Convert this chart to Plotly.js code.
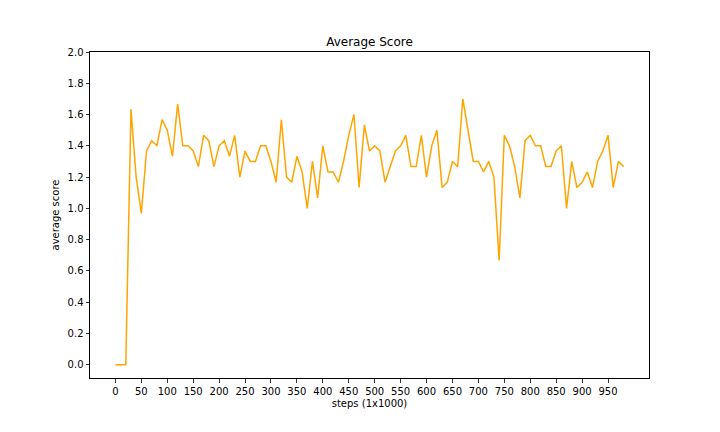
<!DOCTYPE html>
<html>
<head>
<meta charset="utf-8">
<script src="https://cdn.plot.ly/plotly-3.0.1.min.js"></script>
<style>
    html, body { margin: 0; padding: 0; background: #fff; }
    #chart { width: 720px; height: 432px; }
</style>
</head>
<body>
<div id="chart"></div>
<script>
// steps (x1000), one point every 10
var steps = [];
for (var s = 0; s <= 980; s += 10) steps.push(s);

var avgScore = [
    0.0, 0.0, 0.0, 1.633, 1.2, 0.967, 1.367, 1.433, 1.4, 1.567,
    1.5, 1.333, 1.667, 1.4, 1.4, 1.367, 1.267, 1.467, 1.433, 1.267,
    1.4, 1.433, 1.333, 1.467, 1.2, 1.367, 1.3, 1.3, 1.4, 1.4,
    1.3, 1.167, 1.567, 1.2, 1.167, 1.333, 1.233, 1.0, 1.3, 1.067,
    1.4, 1.233, 1.233, 1.167, 1.3, 1.467, 1.6, 1.133, 1.533, 1.367,
    1.4, 1.367, 1.167, 1.267, 1.367, 1.4, 1.467, 1.267, 1.267, 1.467,
    1.2, 1.4, 1.5, 1.133, 1.167, 1.3, 1.267, 1.7, 1.5, 1.3,
    1.3, 1.233, 1.3, 1.2, 0.667, 1.467, 1.4, 1.267, 1.067, 1.433,
    1.467, 1.4, 1.4, 1.267, 1.267, 1.367, 1.4, 1.0, 1.3, 1.133,
    1.167, 1.233, 1.133, 1.3, 1.367, 1.467, 1.133, 1.3, 1.267
];

var xTicks = [];
for (var t = 0; t <= 950; t += 50) xTicks.push(t);

var trace = {
    x: steps,
    y: avgScore,
    type: 'scatter',
    mode: 'lines',
    line: {color: 'orange', width: 1.5},
    hoverinfo: 'x+y'
};

var axisStyle = {
    showgrid: false,
    zeroline: false,
    showline: true,
    linecolor: '#000',
    linewidth: 1,
    mirror: true,
    ticks: 'outside',
    ticklen: 3.5,
    tickwidth: 0.8,
    tickcolor: '#000',
    tickfont: {family: 'DejaVu Sans', size: 10, color: '#000'}
};

var layout = {
    width: 720,
    height: 432,
    autosize: false,
    paper_bgcolor: '#fff',
    plot_bgcolor: '#fff',
    showlegend: false,
    margin: {l: 90, r: 71, t: 52, b: 54, pad: 0},
    font: {family: 'DejaVu Sans', size: 10, color: '#000'},
    title: {
        text: 'Average Score',
        font: {family: 'DejaVu Sans', size: 12, color: '#000'},
        x: 0.5,
        xref: 'paper',
        y: 1,
        yref: 'paper',
        yanchor: 'bottom',
        pad: {b: 6}
    },
    xaxis: Object.assign({}, axisStyle, {
        range: [-49, 1029],
        tickmode: 'array',
        tickvals: xTicks,
        ticktext: xTicks.map(String),
        title: {text: 'steps (1x1000)', font: {family: 'DejaVu Sans', size: 10, color: '#000'}, standoff: 4}
    }),
    yaxis: Object.assign({}, axisStyle, {
        range: [-0.085, 2.0],
        tickmode: 'linear',
        tick0: 0,
        dtick: 0.2,
        tickformat: '.1f',
        title: {text: 'average score', font: {family: 'DejaVu Sans', size: 10, color: '#000'}, standoff: 6}
    })
};

Plotly.newPlot('chart', [trace], layout, {displayModeBar: false, staticPlot: true});
</script>
</body>
</html>
